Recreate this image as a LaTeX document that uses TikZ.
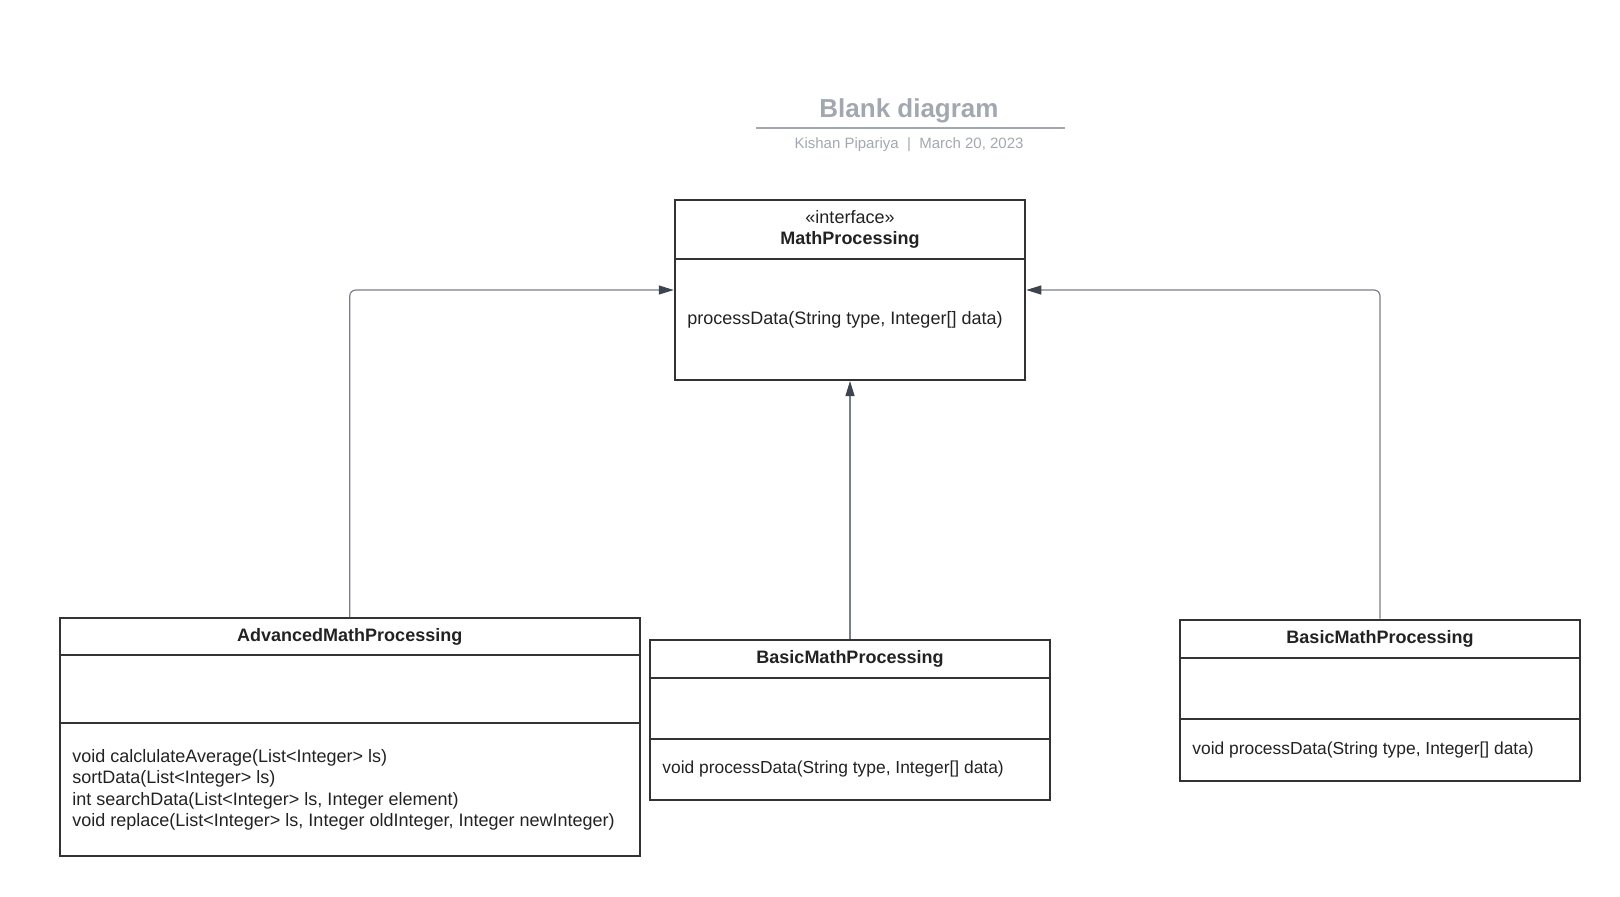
\documentclass[tikz,border=0pt]{standalone}
\usepackage{fontspec}
\setmainfont{Liberation Sans}
\usetikzlibrary{arrows.meta}
\definecolor{boxline}{HTML}{333333}
\definecolor{linkline}{HTML}{7A7F86}
\definecolor{tipfill}{HTML}{3D4450}
\definecolor{titlegray}{HTML}{A3A8B0}
\definecolor{textc}{HTML}{222222}
\begin{document}
\begin{tikzpicture}[x=0.5pt,y=-0.5pt,
    umlbox/.style={draw=boxline,line width=1pt,rectangle,inner sep=0pt},
    sep/.style={draw=boxline,line width=1pt},
    cname/.style={font=\fontsize{9}{10.8}\selectfont\bfseries,text=textc,align=center},
    member/.style={font=\fontsize{9}{10.75}\selectfont,text=textc,anchor=west,align=left,inner sep=0pt},
    realize/.style={draw=linkline,line width=0.6pt,rounded corners=3pt,
      -{Triangle[length=7.5pt,width=4.5pt,color=tipfill]}}]
  \useasboundingbox (0,0) rectangle (1620,896);
  % title block
  \node[font=\fontsize{13}{15}\selectfont\bfseries,text=titlegray] (title) at (909,111) {Blank diagram};
  \draw[titlegray,line width=0.8pt] (756,128) -- (1065,128);
  \node[font=\fontsize{7.5}{9}\selectfont,text=titlegray] (byline) at (909,145) {Kishan Pipariya~~|~~March 20, 2023};
  % interface
  \node[umlbox,minimum width=175.25pt,minimum height=90pt] (iface) at (850,290) {};
  \draw[sep] (iface.west |- 0,259) -- (iface.east |- 0,259);
  \node[cname] (ifacename) at (850,229.5) {\mdseries«interface»\\MathProcessing};
  \node[member] (ifaceop) at (687,319.5) {processData(String type, Integer[] data)};
  % classes
  \node[umlbox,minimum width=289.75pt,minimum height=119pt] (adv) at (349.75,737) {};
  \draw[sep] (adv.west |- 0,655) -- (adv.east |- 0,655);
  \draw[sep] (adv.west |- 0,723) -- (adv.east |- 0,723);
  \node[cname] (advname) at (349.75,637) {AdvancedMathProcessing};
  \node[member] (advops) at (72,790) {void calclulateAverage(List<Integer> ls)\\sortData(List<Integer> ls)\\int searchData(List<Integer> ls, Integer element)\\void replace(List<Integer> ls, Integer oldInteger, Integer newInteger)};
  \node[umlbox,minimum width=200pt,minimum height=80pt] (basic) at (850,720) {};
  \draw[sep] (basic.west |- 0,678) -- (basic.east |- 0,678);
  \draw[sep] (basic.west |- 0,739) -- (basic.east |- 0,739);
  \node[cname] (basicname) at (850,659) {BasicMathProcessing};
  \node[member,font=\fontsize{8.7}{10.4}\selectfont] (basicop) at (662,769) {void processData(String type, Integer[] data)};
  \node[umlbox,minimum width=200pt,minimum height=80.5pt] (basic2) at (1380,700) {};
  \draw[sep] (basic2.west |- 0,658) -- (basic2.east |- 0,658);
  \draw[sep] (basic2.west |- 0,719) -- (basic2.east |- 0,719);
  \node[cname] (basic2name) at (1380,639) {BasicMathProcessing};
  \node[member,font=\fontsize{8.7}{10.4}\selectfont] (basic2op) at (1192,750) {void processData(String type, Integer[] data)};
  % realizations
  \draw[realize] (adv.north) |- (iface.west);
  \draw[realize] (basic2.north) |- (iface.east);
  \draw[realize] (basic.north) -- (iface.south);
\end{tikzpicture}
\end{document}
